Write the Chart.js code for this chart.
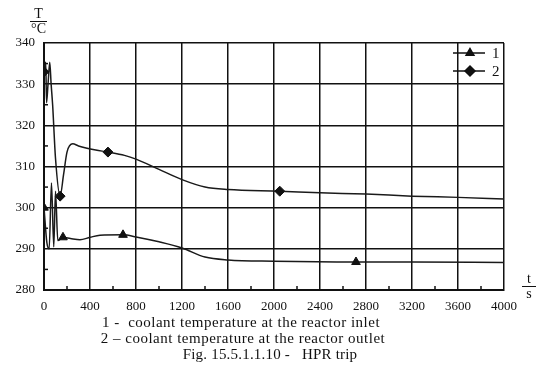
<!DOCTYPE html>
<html>
  <head>
    <title>HPR trip</title>
    <script src="https://cdn.jsdelivr.net/npm/chart.js@4/dist/chart.umd.min.js"></script>
    <style>
      body { margin: 0; background: #fff; }
      .wrap { position: relative; width: 542px; height: 370px; font-family: "Liberation Serif", "DejaVu Serif", serif; color: #111; }
      canvas { position: absolute; left: 0; top: 0; }
      .frac { position: absolute; text-align: center; font-size: 14px; line-height: 13px; }
      .frac .num { border-bottom: 1.5px solid #111; padding: 0 2px 1px; }
      .cap { position: absolute; width: 400px; text-align: center; font-size: 15px; letter-spacing: 0.5px; white-space: pre; line-height: 15px; }
    </style>
  </head>
  <body>
    <div class="wrap">
      <canvas id="canvas" width="542" height="370"></canvas>
      <div class="frac" style="left:30px; top:7px; width:17px;"><div class="num">T</div><div>°C</div></div>
      <div class="frac" style="left:522px; top:272px; width:14px;"><div class="num">t</div><div>s</div></div>
      <div class="cap" style="left:41px; top:315px;">1 -  coolant temperature at the reactor inlet</div>
      <div class="cap" style="left:43px; top:331px;">2 – coolant temperature at the reactor outlet</div>
      <div class="cap" style="left:70px; top:347px; letter-spacing:0.2px;">Fig. 15.5.1.1.10 -   HPR trip</div>
    </div>
    <script>
      // time, s
      var inletX = [0, 25, 45, 65, 85, 100, 120, 165, 230, 313, 400, 487, 687, 800, 1000, 1200, 1400, 1600, 2000, 2713, 3200, 4000];
      // temperature, °C
      var inletT = [300, 291.5, 290, 306, 290.5, 304, 292, 292.8, 292.5, 292.2, 292.8, 293.3, 293.4, 292.9, 291.7, 290.2, 288, 287.3, 287, 286.8, 286.8, 286.7];
      var inletMarks = [0, 165, 687, 2713];

      var outletX = [0, 15, 22, 35, 50, 62, 75, 100, 140, 170, 200, 250, 300, 365, 450, 556, 700, 800, 1000, 1200, 1400, 1600, 2050, 2400, 2800, 3200, 3600, 4000];
      var outletT = [333, 335.3, 325.5, 330, 335.3, 330, 325, 312, 302.8, 308, 313.5, 315.5, 315, 314.5, 314, 313.5, 312.7, 311.8, 309.3, 306.8, 305, 304.4, 304, 303.6, 303.3, 302.8, 302.5, 302.1];
      var outletMarks = [0, 140, 556, 2050];

      var xTicks = [0, 400, 800, 1200, 1600, 2000, 2400, 2800, 3200, 3600, 4000];
      var yTicks = [280, 290, 300, 310, 320, 330, 340];

      function toPoints(xs, ys) {
        return xs.map(function(x, i) { return { x: x, y: ys[i] }; });
      }

      function markRadius(marks, r) {
        return function(c) {
          return marks.indexOf(c.raw.x) >= 0 ? r : 0;
        };
      }

      // small minor ticks + legend drawn inside the plot
      var extras = {
        id: 'extras',
        afterDraw: function(chart) {
          var ctx = chart.ctx, xs = chart.scales.x, ys = chart.scales.y, a = chart.chartArea;
          ctx.save();
          ctx.strokeStyle = '#111';
          ctx.lineWidth = 1.5;
          for (var v = 200; v < 4000; v += 400) {
            var px = xs.getPixelForValue(v);
            ctx.beginPath(); ctx.moveTo(px, a.bottom); ctx.lineTo(px, a.bottom - 4); ctx.stroke();
          }
          for (var t = 285; t < 340; t += 10) {
            var py = ys.getPixelForValue(t);
            ctx.beginPath(); ctx.moveTo(a.left, py); ctx.lineTo(a.left + 4, py); ctx.stroke();
          }
          // legend
          var rows = [['1', 'triangle', 10], ['2', 'rectRot', 28]];
          ctx.font = '15px "Liberation Serif", serif';
          ctx.textBaseline = 'middle';
          ctx.fillStyle = '#111';
          rows.forEach(function(r) {
            var y = a.top + r[2];
            ctx.beginPath(); ctx.moveTo(a.right - 51, y); ctx.lineTo(a.right - 19, y); ctx.stroke();
            Chart.helpers.drawPoint(ctx, { pointStyle: r[1], radius: r[1] === 'triangle' ? 4.5 : 5, borderWidth: 1, rotation: 0 }, a.right - 34, y);
            ctx.fill();
            ctx.fillText(r[0], a.right - 12, y + 1);
          });
          ctx.restore();
        }
      };

      var serif = { family: '"Liberation Serif", "DejaVu Serif", serif', size: 13 };
      var plain = function(v) { return String(v); };

      var config = {
        type: 'line',
        data: {
          datasets: [{
            label: '1',
            data: toPoints(inletX, inletT),
            borderColor: '#1a1a1a',
            backgroundColor: '#111',
            borderWidth: 1.5,
            cubicInterpolationMode: 'monotone',
            pointStyle: 'triangle',
            pointRadius: markRadius(inletMarks, 5),
            pointBorderWidth: 1,
            pointBorderColor: '#111'
          }, {
            label: '2',
            data: toPoints(outletX, outletT),
            borderColor: '#1a1a1a',
            backgroundColor: '#111',
            borderWidth: 1.5,
            cubicInterpolationMode: 'monotone',
            pointStyle: 'rectRot',
            pointRadius: markRadius(outletMarks, 5),
            pointBorderWidth: 1,
            pointBorderColor: '#111'
          }]
        },
        options: {
          responsive: false,
          animation: false,
          events: [],
          layout: { padding: { left: 0, top: 43, right: 38, bottom: 60 } },
          plugins: { legend: { display: false }, tooltip: { enabled: false } },
          scales: {
            x: {
              type: 'linear',
              min: 0, max: 4000,
              afterFit: function(s) { s.height = 20; },
              afterBuildTicks: function(s) { s.ticks = xTicks.map(function(v) { return { value: v }; }); },
              grid: { color: '#111', lineWidth: 1.5, drawTicks: false },
              border: { color: '#111', width: 2 },
              ticks: { color: '#111', font: serif, padding: 9, maxRotation: 0, callback: plain }
            },
            y: {
              min: 280, max: 340,
              afterFit: function(s) { s.width = 44; },
              afterBuildTicks: function(s) { s.ticks = yTicks.map(function(v) { return { value: v }; }); },
              grid: { color: '#111', lineWidth: 1.5, drawTicks: false },
              border: { color: '#111', width: 2 },
              ticks: { color: '#111', font: serif, padding: 9, callback: plain }
            }
          }
        },
        plugins: [extras]
      };

      var ctx = document.getElementById('canvas').getContext('2d');
      window.myChart = new Chart(ctx, config);
    </script>
  </body>
</html>
